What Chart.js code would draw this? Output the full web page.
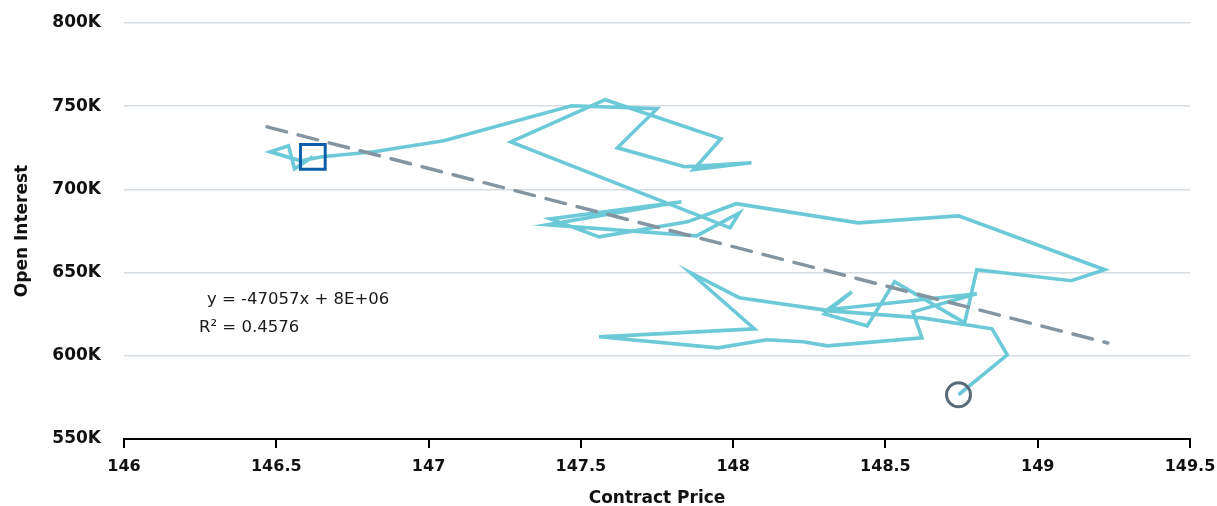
<!DOCTYPE html>
<html>
<head>
<meta charset="utf-8">
<script src="https://cdn.jsdelivr.net/npm/chart.js@4.4.0/dist/chart.umd.min.js"></script>
<style>
  html, body { margin: 0; padding: 0; background: #ffffff; }
  #wrap { width: 1217px; height: 506px; position: relative; }
</style>
</head>
<body>
<div id="wrap"><canvas id="c" width="1217" height="506"></canvas></div>
<script>
// ---- Data ----
const contractPrice = [
  146.62, 146.56, 146.54, 146.48, 146.58, 146.65, 146.82, 147.05, 147.47, 147.75,
  147.62, 147.84, 148.06, 147.87, 147.96, 147.58, 147.27, 147.99, 148.02, 147.88,
  147.39, 147.83, 147.40, 147.56, 147.85, 148.01, 148.41, 148.74, 149.22, 149.11,
  148.80, 148.76, 148.53, 148.44, 148.30, 148.39, 148.31, 148.80, 148.59, 148.62,
  148.31, 148.23, 148.11, 147.95, 147.56, 148.07, 147.86, 148.02, 148.32, 148.62,
  148.85, 148.90, 148.74
];
const openInterest = [
  719600, 712400, 726200, 722600, 717200, 719600, 722600, 729200, 750300, 748500,
  725000, 713600, 716000, 711800, 730400, 753900, 728600, 676900, 685900, 672100,
  678700, 692600, 682300, 671500, 680500, 691400, 679900, 684100, 651700, 645100,
  651700, 619800, 644500, 618000, 625200, 638500, 627600, 637300, 626400, 610800,
  606000, 608400, 609600, 604800, 611400, 616200, 649900, 634900, 627000, 622800,
  616200, 600600, 576600
];
const trendSlope = -47057;
const trendIntercept = 7630000;
const trendRange = [146.47, 149.23];
const trendLabel = 'y = -47057x + 8E+06';
const r2Label = 'R\u00B2 = 0.4576';
const xTicks = [146, 146.5, 147, 147.5, 148, 148.5, 149, 149.5];
const yTicks = [550000, 600000, 650000, 700000, 750000, 800000];

// ---- Build datasets ----
const seriesPoints = contractPrice.map((p, i) => ({ x: p, y: openInterest[i] }));
const trendPoints = trendRange.map(x => ({ x: x, y: trendSlope * x + trendIntercept }));
const firstPoint = [seriesPoints[0]];
const lastPoint = [seriesPoints[seriesPoints.length - 1]];

const LABEL_FONT = { family: "'DejaVu Sans', sans-serif", size: 17, weight: 'bold' };
const XTICK_FONT = { family: "'DejaVu Sans', sans-serif", size: 16, weight: 'bold' };

const annotationPlugin = {
  id: 'trendText',
  afterDatasetsDraw(chart) {
    const ctx = chart.ctx;
    ctx.save();
    ctx.fillStyle = '#1a1a1a';
    ctx.font = "16.5px 'DejaVu Sans', sans-serif";
    ctx.textAlign = 'left';
    ctx.textBaseline = 'middle';
    ctx.fillText(trendLabel, 207, 300);
    ctx.fillText(r2Label, 199, 328);
    ctx.restore();
  }
};

new Chart(document.getElementById('c'), {
  type: 'scatter',
  data: {
    datasets: [
      {
        label: 'Series',
        data: seriesPoints,
        showLine: true,
        borderColor: '#6ccad8',
        borderWidth: 3.6,
        pointRadius: 0,
        tension: 0,
        order: 3
      },
      {
        label: 'Trend',
        data: trendPoints,
        showLine: true,
        borderColor: '#8495a1',
        borderWidth: 3.5,
        borderDash: [20, 12],
        borderCapStyle: 'round',
        pointRadius: 0,
        order: 2
      },
      {
        label: 'Start',
        data: firstPoint,
        pointStyle: 'rect',
        pointRadius: 17.5,
        pointBorderWidth: 3,
        pointBorderColor: '#0b5fa8',
        pointBackgroundColor: 'rgba(0,0,0,0)',
        order: 1
      },
      {
        label: 'End',
        data: lastPoint,
        pointStyle: 'circle',
        pointRadius: 12,
        pointBorderWidth: 3,
        pointBorderColor: '#5b6b77',
        pointBackgroundColor: 'rgba(0,0,0,0)',
        order: 0
      }
    ]
  },
  options: {
    responsive: false,
    animation: false,
    layout: { padding: { left: 10, right: 27, top: 23, bottom: 0 } },
    plugins: {
      legend: { display: false },
      tooltip: { enabled: false }
    },
    scales: {
      x: {
        type: 'linear',
        min: 146,
        max: 149.5,
        afterBuildTicks(scale) { scale.ticks = xTicks.map(v => ({ value: v })); },
        afterFit(scale) {
          scale.height = 67;
          scale.paddingLeft = 0;
          scale.paddingRight = 0;
        },
        ticks: {
          color: '#111',
          font: XTICK_FONT,
          padding: 9,
          maxRotation: 0,
          callback: v => String(v)
        },
        grid: {
          drawOnChartArea: false,
          drawTicks: true,
          tickLength: 9,
          color: '#000',
          lineWidth: 2
        },
        border: { display: true, color: '#000', width: 2 },
        title: {
          display: true,
          text: 'Contract Price',
          color: '#111',
          font: LABEL_FONT,
          padding: { top: 2, bottom: -3 }
        }
      },
      y: {
        type: 'linear',
        min: 550000,
        max: 800000,
        afterBuildTicks(scale) { scale.ticks = yTicks.map(v => ({ value: v })); },
        afterFit(scale) {
          scale.width = 114;
          scale.paddingTop = 0;
          scale.paddingBottom = 0;
        },
        ticks: {
          color: '#111',
          font: LABEL_FONT,
          padding: 23,
          callback: v => (v / 1000) + 'K'
        },
        grid: {
          drawTicks: false,
          color: '#d6dee4',
          lineWidth: 1.5
        },
        border: { display: false },
        title: {
          display: true,
          text: 'Open Interest',
          color: '#111',
          font: LABEL_FONT,
          padding: { top: 2, bottom: 0 }
        }
      }
    }
  },
  plugins: [annotationPlugin]
});
</script>
</body>
</html>
